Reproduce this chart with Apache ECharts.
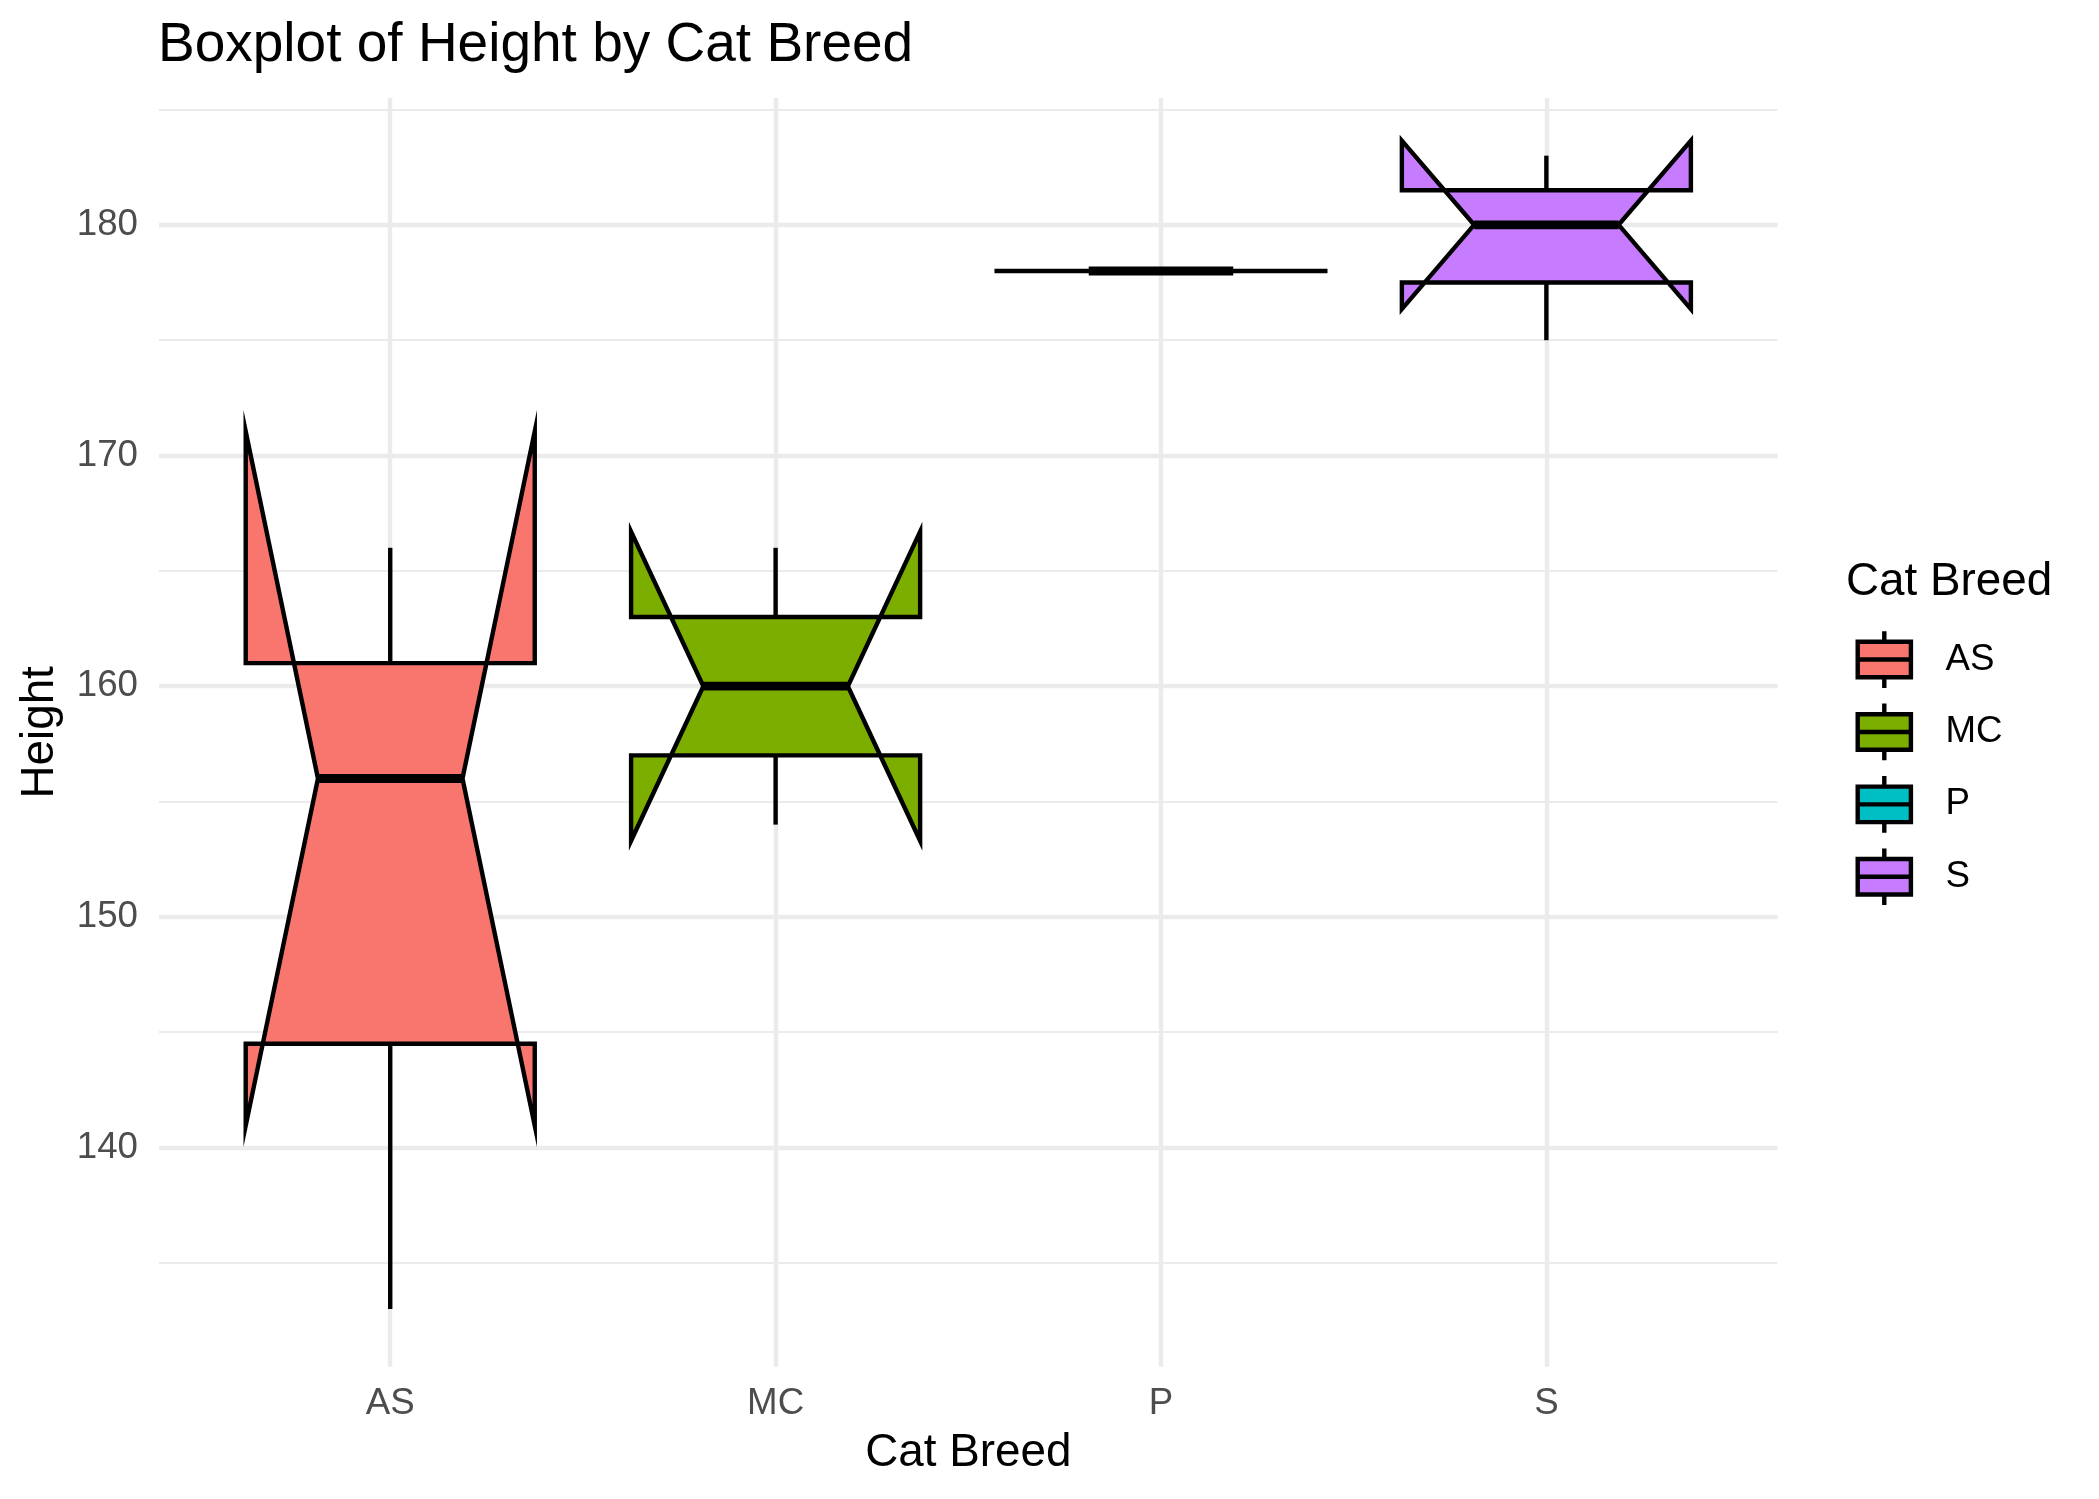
<!DOCTYPE html>
<html><head><meta charset="utf-8">
<script src="https://cdn.jsdelivr.net/npm/echarts@6/dist/echarts.min.js"></script>
<style>html,body{margin:0;padding:0;background:#fff}#c{width:2099px;height:1499px}</style>
</head><body><div id="c"></div>
<script>
// ---- data ----
const categories  = ['AS', 'MC', 'P', 'S'];
const whiskerLow  = [133, 154, 178, 175];
const q1          = [144.5, 157, 178, 177.5];
const medians     = [156, 160, 178, 180];
const q3          = [161, 163, 178, 181.5];
const whiskerHigh = [166, 166, 178, 183];
const notchLow    = [140.95, 153.3, 178, 176.35];
const notchHigh   = [171.05, 166.7, 178, 183.65];
const yMajorTicks = [140, 150, 160, 170, 180];
const yMinorTicks = [135, 145, 155, 165, 175, 185];

// ---- styles ----
const palette = ['#F8766D', '#7CAE00', '#00BFC4', '#C77CFF'];
const FONT = "'Liberation Sans', Arial, Helvetica, sans-serif";
const LW = 4.4;          // box / whisker line width
const BOX_WIDTH = 0.75;  // in category units
const NOTCH_WIDTH = 0.5;
const GRID_COLOR = '#EBEBEB';

const xPositions = categories.map((_, i) => i + 1);

function renderItem(params, api) {
  const x = api.value(0);
  const lo = api.value(1), a = api.value(2), m = api.value(3), b = api.value(4),
        hi = api.value(5), nl = api.value(6), nh = api.value(7);
  const color = api.visual('color');
  const xmin = api.coord([x - BOX_WIDTH / 2, m])[0];
  const xmax = api.coord([x + BOX_WIDTH / 2, m])[0];
  const xc = api.coord([x, m])[0];
  const Y = v => api.coord([x, v])[1];
  const indent = (1 - NOTCH_WIDTH) * (xmax - xmin) / 2;
  const lineStyle = { stroke: '#000', lineWidth: LW, lineCap: 'butt', fill: null };
  const children = [];
  // whiskers
  if (Math.abs(Y(b) - Y(hi)) > 0.01)
    children.push({ type: 'line', shape: { x1: xc, y1: Y(b), x2: xc, y2: Y(hi) }, style: lineStyle });
  if (Math.abs(Y(a) - Y(lo)) > 0.01)
    children.push({ type: 'line', shape: { x1: xc, y1: Y(a), x2: xc, y2: Y(lo) }, style: lineStyle });
  const degenerate = Math.abs(Y(a) - Y(b)) < 0.01 && Math.abs(Y(nl) - Y(nh)) < 0.01;
  if (degenerate) {
    // zero-height notched box: R's mitre joins (limit 10) stretch the collapsed outline
    const ext = 5 * LW;
    children.push({ type: 'line', shape: { x1: xmin - ext, y1: Y(m), x2: xmax + ext, y2: Y(m) }, style: lineStyle });
  } else {
    children.push({
      type: 'polygon',
      shape: { points: [
        [xmin, Y(b)], [xmin, Y(nh)], [xmin + indent, Y(m)], [xmin, Y(nl)], [xmin, Y(a)],
        [xmax, Y(a)], [xmax, Y(nl)], [xmax - indent, Y(m)], [xmax, Y(nh)], [xmax, Y(b)]
      ] },
      style: { fill: color, stroke: '#000', lineWidth: LW, lineJoin: 'miter', miterLimit: 10 }
    });
  }
  // median
  children.push({ type: 'line', shape: { x1: xmin + indent, y1: Y(m), x2: xmax - indent, y2: Y(m) },
    style: { stroke: '#000', lineWidth: LW * 2, lineCap: 'butt' } });
  return { type: 'group', children };
}

const series = categories.map((name, i) => ({
  name,
  type: 'custom',
  renderItem,
  clip: false,
  itemStyle: { color: palette[i] },
  encode: { x: 0, y: [1, 2, 3, 4, 5, 6, 7] },
  data: [[xPositions[i], whiskerLow[i], q1[i], medians[i], q3[i], whiskerHigh[i], notchLow[i], notchHigh[i]]]
}));

const chart = echarts.init(document.getElementById('c'), null, { renderer: 'canvas' });
chart.setOption({
  animation: false,
  backgroundColor: '#fff',
  textStyle: { fontFamily: FONT },
  title: [
    { text: 'Boxplot of Height by Cat Breed', left: 158, top: 18, padding: 0,
      textStyle: { fontSize: 55, lineHeight: 55, fontWeight: 'normal', color: '#000', fontFamily: FONT } },
    { text: 'Cat Breed', left: 1846, top: 559, padding: 0,
      textStyle: { fontSize: 45.8, lineHeight: 45.8, fontWeight: 'normal', color: '#000', fontFamily: FONT } }
  ],
  legend: {
    orient: 'vertical', left: 1855.5, top: 629, padding: 0, itemGap: 11.3,
    itemWidth: 82.8, itemHeight: 56.7, selectedMode: false,
    icon: 'path://M26.6,0L26.6,10.6M0,10.6L53.2,10.6L53.2,46.1L0,46.1ZM0,28.35L53.2,28.35M26.6,46.1L26.6,56.7M82.8,0',
    itemStyle: { borderColor: '#000', borderWidth: LW },
    textStyle: { fontSize: 36.7, color: '#000', fontFamily: FONT, padding: 0 },
    data: categories
  },
  grid: { left: 159, top: 98, right: 321.4, bottom: 132.3, containLabel: false },
  xAxis: {
    type: 'value', min: 0.4, max: 4.6,
    axisLine: { show: false },
    axisTick: { show: false, customValues: xPositions },
    axisLabel: { customValues: xPositions, formatter: v => categories[Math.round(v) - 1],
      fontSize: 36.7, lineHeight: 36.7, color: '#4D4D4D', margin: 19, fontFamily: FONT },
    splitLine: { show: true, lineStyle: { color: GRID_COLOR, width: LW } },
    name: 'Cat Breed', nameLocation: 'middle', nameGap: 64,
    nameTextStyle: { fontSize: 45.8, lineHeight: 45.8, color: '#000', fontFamily: FONT }
  },
  yAxis: [
    {
      type: 'value', min: 130.5, max: 185.5,
      axisLine: { show: false },
      axisTick: { show: false, customValues: yMajorTicks },
      axisLabel: { customValues: yMajorTicks, fontSize: 36.7, color: '#4D4D4D', margin: 21, fontFamily: FONT },
      splitLine: { show: true, lineStyle: { color: GRID_COLOR, width: LW } },
      name: 'Height', nameLocation: 'middle', nameGap: 96, nameRotate: 90,
      nameTextStyle: { fontSize: 45.8, lineHeight: 45.8, color: '#000', fontFamily: FONT }
    },
    {
      type: 'value', min: 130.5, max: 185.5, position: 'left',
      axisLine: { show: false },
      axisTick: { show: false, customValues: yMinorTicks },
      axisLabel: { show: false, customValues: yMinorTicks },
      splitLine: { show: true, lineStyle: { color: GRID_COLOR, width: LW / 2 } }
    }
  ],
  series
});
</script></body></html>
